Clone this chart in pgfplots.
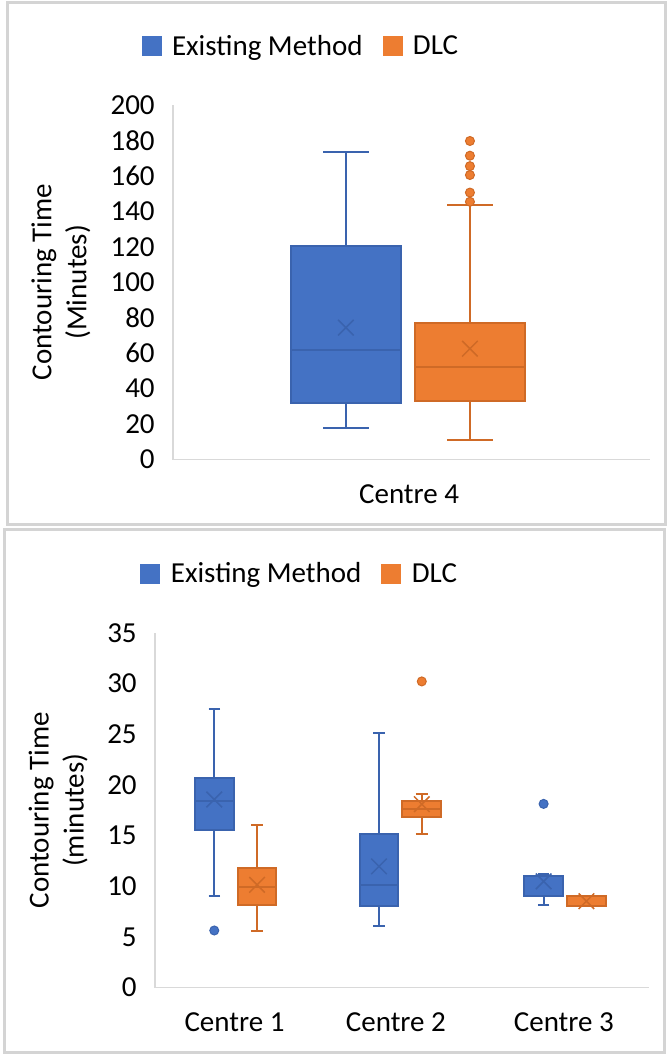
\documentclass[border=0pt]{standalone}
\usepackage{fontspec}
\setmainfont{Carlito}
\usepackage{pgfplots}
\pgfplotsset{compat=1.18}
\usepgfplotslibrary{statistics}

\definecolor{eBlue}{HTML}{4472C4}
\definecolor{eBlueD}{HTML}{3A63AE}
\definecolor{eOrange}{HTML}{ED7D31}
\definecolor{eOrangeD}{HTML}{CF6A26}
\definecolor{frameGray}{HTML}{D4D4D4}
\definecolor{axGray}{HTML}{D9D9D9}

\newcommand{\chfont}{\fontsize{29}{35}\selectfont}

\pgfplotsset{
  excel/.style={
    scale only axis,
    boxplot/draw direction=y,
    axis lines=left,
    axis line style={-, draw=axGray, line width=1.5pt},
    tick style={draw=none},
    ymin=0,
    tick label style={font=\chfont},
    label style={font=\chfont},
    yticklabel style={anchor=east, inner sep=0pt, xshift=-16pt},
    xticklabel style={anchor=center, inner sep=0pt, yshift=-33pt},
    /pgf/number format/assume math mode=true,
    legend style={draw=none, fill=none, font=\chfont, legend columns=2,
      anchor=center, column sep=11pt,
      /tikz/every even column/.append style={column sep=20pt},
      nodes={inner sep=0pt}},
    clip=false,
  },
  eb/.style={fill=eBlue, draw=eBlueD, line width=2pt, solid,
    mark=*, mark size=4.5pt, mark options={fill=eBlue, draw=eBlueD, line width=1pt}},
  eo/.style={fill=eOrange, draw=eOrangeD, line width=2pt, solid,
    mark=*, mark size=4.5pt, mark options={fill=eOrange, draw=eOrangeD, line width=1pt}},
  mb/.style={only marks, mark=x, mark size=11pt, mark options={draw=eBlueD, line width=1.5pt}},
  mo/.style={only marks, mark=x, mark size=11pt, mark options={draw=eOrangeD, line width=1.5pt}},
}

\begin{document}
\begin{tikzpicture}
\path[use as bounding box] (0pt,0pt) rectangle (669pt,-1056pt);
\draw[frameGray, line width=3pt] (7pt,-3pt) rectangle (665pt,-524pt);
\draw[frameGray, line width=3pt] (4pt,-529.5pt) rectangle (664pt,-1052pt);

% ---- Centre 4 ----
\begin{axis}[excel,
  at={(173pt,-459.5pt)}, anchor=south west,
  width=477pt, height=354.5pt,
  xmin=-1, xmax=1, ymax=200,
  ytick={0,20,...,200},
  xtick={-0.01}, xticklabels={Centre 4},
  ylabel={Contouring Time\\(Minutes)},
  ylabel style={align=center, at={(axis description cs:-0.235,0.5)}, anchor=center},
  legend style={at={(0.266,1.167)}},
]
\addlegendimage{legend image code/.code={\fill[eBlue] (0pt,-9.5pt) rectangle (19pt,9.5pt);}}
\addlegendentry{Existing Method}
\addlegendimage{legend image code/.code={\fill[eOrange] (0pt,-9.5pt) rectangle (19pt,9.5pt);}}
\addlegendentry{DLC}
\addplot[eb, forget plot, boxplot prepared={draw position=-0.275,
  lower whisker=17.6, lower quartile=31.9, median=62,
  upper quartile=120.3, upper whisker=173.5,
  box extend=0.46, whisker extend=0.19}] coordinates {};
\addplot[eo, forget plot, boxplot prepared={draw position=0.245,
  lower whisker=10.9, lower quartile=32.9, median=52,
  upper quartile=76.9, upper whisker=143.7,
  box extend=0.46, whisker extend=0.19}]
  table[row sep=\\, y index=0] {145.4\\ 150.6\\ 160.5\\ 165.5\\ 171.4\\ 179.7\\};
\addplot[mb, forget plot] coordinates {(-0.275,74.4)};
\addplot[mo, forget plot] coordinates {(0.245,62.5)};
\end{axis}

% ---- Centres 1-3 ----
\begin{axis}[excel,
  at={(155pt,-987.5pt)}, anchor=south west,
  width=494pt, height=354.5pt,
  xmin=0.5, xmax=3.5, ymax=35,
  ytick={0,5,...,35},
  xtick={0.983,1.963,2.983}, xticklabels={Centre 1,Centre 2,Centre 3},
  ylabel={Contouring Time\\(minutes)},
  ylabel style={align=center, at={(axis description cs:-0.196,0.5)}, anchor=center},
  legend style={at={(0.291,1.168)}},
]
\addlegendimage{legend image code/.code={\fill[eBlue] (0pt,-9.5pt) rectangle (19pt,9.5pt);}}
\addlegendentry{Existing Method}
\addlegendimage{legend image code/.code={\fill[eOrange] (0pt,-9.5pt) rectangle (19pt,9.5pt);}}
\addlegendentry{DLC}
% Existing Method
\addplot[eb, forget plot, boxplot prepared={draw position=0.86,
  lower whisker=9.03, lower quartile=15.6, median=18.43,
  upper quartile=20.72, upper whisker=27.46,
  box extend=0.235, whisker extend=0.07}] table[row sep=\\, y index=0] {5.63\\};
\addplot[eb, forget plot, boxplot prepared={draw position=1.86,
  lower whisker=6.06, lower quartile=8.02, median=10.1,
  upper quartile=15.13, upper whisker=25.13,
  box extend=0.235, whisker extend=0.07}] coordinates {};
\addplot[eb, forget plot, boxplot prepared={draw position=2.86,
  lower whisker=8.12, lower quartile=9.03, median=9.03,
  upper quartile=11.05, upper whisker=11.2,
  box extend=0.235, whisker extend=0.07}] table[row sep=\\, y index=0] {18.13\\};
% DLC
\addplot[eo, forget plot, boxplot prepared={draw position=1.12,
  lower whisker=5.56, lower quartile=8.19, median=9.94,
  upper quartile=11.79, upper whisker=16.07,
  box extend=0.235, whisker extend=0.07}] coordinates {};
\addplot[eo, forget plot, boxplot prepared={draw position=2.12,
  lower whisker=15.16, lower quartile=16.88, median=17.62,
  upper quartile=18.43, upper whisker=19.14,
  box extend=0.235, whisker extend=0.07}] table[row sep=\\, y index=0] {30.22\\};
\addplot[eo, forget plot, boxplot prepared={draw position=3.12,
  lower whisker=8.02, lower quartile=8.02, median=8.02,
  upper quartile=9.0, upper whisker=9.03,
  box extend=0.235, whisker extend=0.07}] coordinates {};
% means
\addplot[mb, forget plot] coordinates {(0.86,18.56) (1.86,11.96) (2.86,10.48)};
\addplot[mo, forget plot] coordinates {(1.12,10.14) (2.12,18.1) (3.12,8.52)};
\end{axis}
\end{tikzpicture}
\end{document}
